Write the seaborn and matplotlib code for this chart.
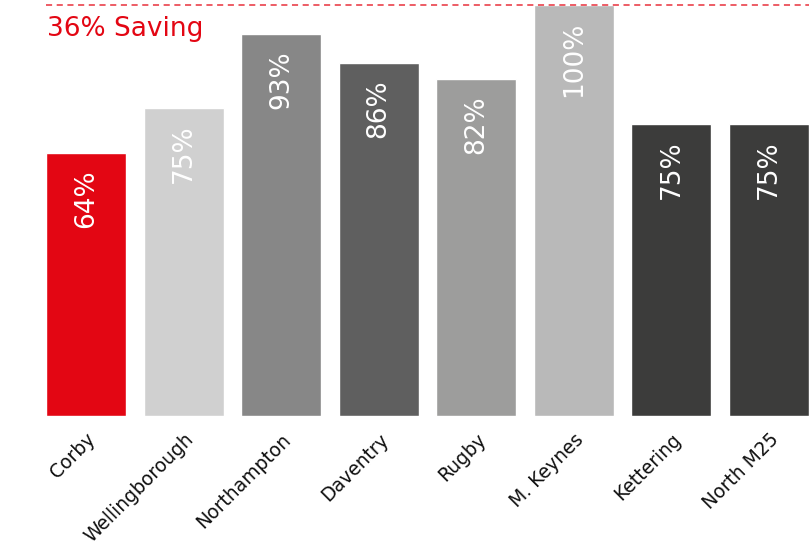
import matplotlib
matplotlib.use('Agg')
import matplotlib.pyplot as plt
import seaborn as sns
import pandas as pd

# data
towns = ['Corby', 'Wellingborough', 'Northampton', 'Daventry', 'Rugby',
         'M. Keynes', 'Kettering', 'North M25']
heights = [64, 75, 93, 86, 82, 100, 71, 71]   # bar heights as drawn
labels = ['64%', '75%', '93%', '86%', '82%', '100%', '75%', '75%']  # printed text
bar_colors = ['#e30613', '#d0d0d0', '#878787', '#5f5f5f', '#9d9d9c',
              '#b9b9b9', '#3c3c3b', '#3c3c3b']
saving_label = '36% Saving'

sns.set_style('white')
plt.rcParams['font.family'] = ['DejaVu Sans']

df = pd.DataFrame({'town': towns, 'value': heights})

fig = plt.figure(figsize=(8.09, 5.48), dpi=100)
ax = fig.add_axes([46 / 809, 132 / 548, 1 - 46 / 809, 411 / 548])

sns.barplot(data=df, x='town', y='value', hue='town', palette=bar_colors,
            width=0.82, saturation=1, legend=False, ax=ax)

ax.set_ylim(0, 100)
ax.set_xlim(-0.41, len(towns) - 1 + 0.41)

# value labels inside bars, reading upwards
for i, (h, lab) in enumerate(zip(heights, labels)):
    ax.text(i, h - 4, lab, rotation=90, ha='center', va='top',
            color='white', fontsize=19)

# dashed reference line at 100% and saving label
ax.axhline(100, color='#e8303c', linestyle=(0, (4, 3)), linewidth=1.1, clip_on=False)
fig.text(47 / 809, 1 - 29 / 548, saving_label, color='#e30613', fontsize=19,
         ha='left', va='center')

ax.set_xlabel('')
ax.set_ylabel('')
ax.set_yticks([])
ax.set_xticks(range(len(towns)))
ax.set_xticklabels(towns, rotation=45, ha='right', va='top', rotation_mode='anchor',
                   fontsize=13.5, color='#111111')
ax.tick_params(axis='x', length=0, pad=10)
sns.despine(ax=ax, left=True, bottom=True)

fig.savefig('out.png', dpi=100)
